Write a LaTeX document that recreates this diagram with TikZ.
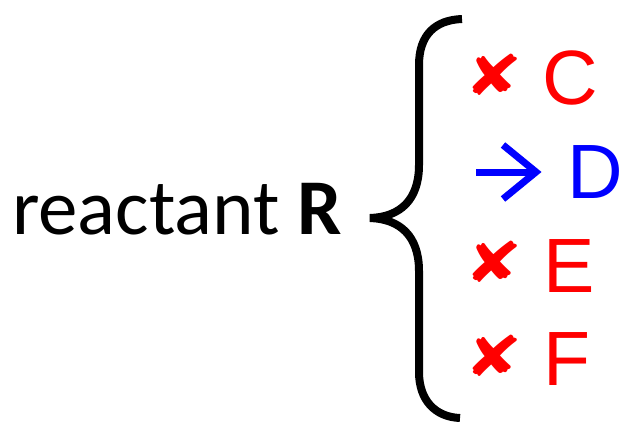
\documentclass[tikz,border=0pt]{standalone}
\usepackage{fontspec}
\setmainfont{Carlito}
\newfontfamily\arialfont{Liberation Sans}
\newfontfamily\symfont{DejaVu Sans}
\usetikzlibrary{positioning}

\begin{document}
\begin{tikzpicture}[x=1pt,y=-1pt,line width=8pt,
  reactant/.style={font=\fontsize{79}{79}\selectfont,inner sep=0pt,anchor=base east},
  product/.style={font=\arialfont\fontsize{77}{77}\selectfont,inner sep=0pt,anchor=base west},
  nogo/.style={font=\symfont\fontsize{56}{56}\selectfont,text=red,inner sep=0pt},
  go/.style={draw=blue,line width=7pt,miter limit=10}]
  \useasboundingbox (0,0) rectangle (623,421);

  \node[reactant] (R) at (346,234) {reactant \textbf{R}};

  \draw (462,19) .. controls (435,20) and (419,35) .. (419,65) -- (419,165)
    .. controls (419,200) and (400,217) .. (370,218)
    .. controls (400,219) and (419,236) .. (419,271) -- (419,372)
    .. controls (419,400) and (435,417) .. (460,418);

  \node[nogo]		(xC) at (494,75)	{\scalebox{1.25}[1]{✘}};
  \node[product,red]	(C) at (538,104)	{C};
  \node[product,blue]	(D) at (563,198)	{D};
  \node[nogo]		(xE) at (494,262)	{\scalebox{1.25}[1]{✘}};
  \node[product,red]	(E) at (539,292)	{E};
  \node[nogo]		(xF) at (494,356)	{\scalebox{1.25}[1]{✘}};
  \node[product,red]	(F) at (539,385)	{F};

  \coordinate (tail) at (476,172);
  \coordinate (head) at (536,172);
  \draw[go] (tail) -- (head);
  \draw[go] (503,145) -- (head) -- (503,199);
\end{tikzpicture}
\end{document}
